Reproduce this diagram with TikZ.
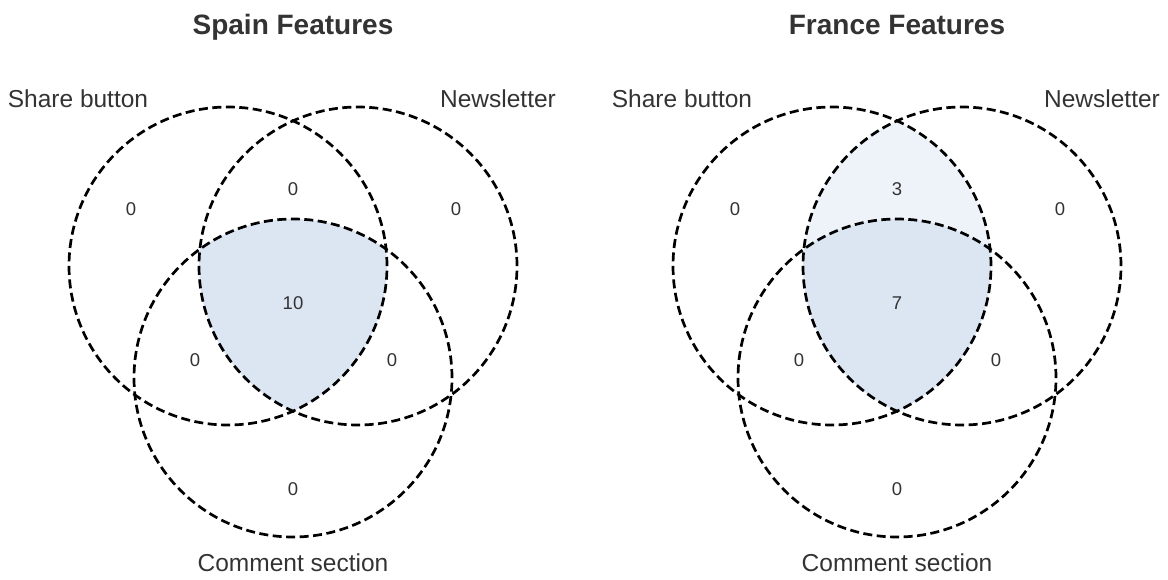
\documentclass[tikz,border=0pt]{standalone}
\usepackage{fontspec}
\setmainfont{Liberation Sans}
\usetikzlibrary{positioning}
\definecolor{inkgray}{HTML}{333333}
\definecolor{venndeep}{HTML}{DCE6F3}
\definecolor{vennpale}{HTML}{EEF3FA}
\tikzset{
  setring/.style={draw=black, line width=2.7pt, dash pattern=on 9pt off 4.5pt},
  count/.style={text=inkgray, font=\fontsize{18.5}{20}\selectfont, inner sep=0pt},
  setname/.style={text=inkgray, font=\fontsize{24.5}{26}\selectfont, inner sep=0pt},
  paneltitle/.style={text=inkgray, font=\bfseries\fontsize{28}{30}\selectfont, inner sep=0pt, anchor=base}
}
\begin{document}
\begin{tikzpicture}[x=1pt, y=-1pt]
  \useasboundingbox (0,0) rectangle (1168,579);

  % Spain
  \coordinate (sA) at (228,266);
  \coordinate (sB) at (358,266);
  \coordinate (sC) at (293,378);
  \begin{scope}
    \clip (sA) circle[radius=159pt];
    \clip (sB) circle[radius=159pt];
    \fill[venndeep] (sC) circle[radius=159pt];
  \end{scope}
  \foreach \c in {sA,sB,sC} \draw[setring] (\c) circle[radius=159pt];

  \node[paneltitle] (stitle) at (293,34) {Spain Features};
  \node[setname] (sshare) at (78,99) {Share button};
  \node[setname] (snews) at (498,99) {Newsletter};
  \node[setname] (scomm) at (293,563) {Comment section};
  \node[count] (sa) at (131,209) {0};
  \node[count] (sab) at (293,189) {0};
  \node[count] (sb) at (456,209) {0};
  \node[count] (sabc) at (293,303) {10};
  \node[count] (sac) at (195,360) {0};
  \node[count] (sbc) at (392,360) {0};
  \node[count] (sc) at (293,489) {0};

  % France
  \coordinate (fA) at (832,266);
  \coordinate (fB) at (962,266);
  \coordinate (fC) at (897,378);
  \begin{scope}
    \clip (fA) circle[radius=159pt];
    \clip (fB) circle[radius=159pt];
    \fill[vennpale] (fA) circle[radius=159pt];
    \fill[venndeep] (fC) circle[radius=159pt];
  \end{scope}
  \foreach \c in {fA,fB,fC} \draw[setring] (\c) circle[radius=159pt];

  \node[paneltitle] (ftitle) at (897,34) {France Features};
  \node[setname] (fshare) at (682,99) {Share button};
  \node[setname] (fnews) at (1102,99) {Newsletter};
  \node[setname] (fcomm) at (897,563) {Comment section};
  \node[count] (fa) at (735,209) {0};
  \node[count] (fab) at (897,189) {3};
  \node[count] (fb) at (1060,209) {0};
  \node[count] (fabc) at (897,303) {7};
  \node[count] (fac) at (799,360) {0};
  \node[count] (fbc) at (996,360) {0};
  \node[count] (fc) at (897,489) {0};
\end{tikzpicture}
\end{document}
